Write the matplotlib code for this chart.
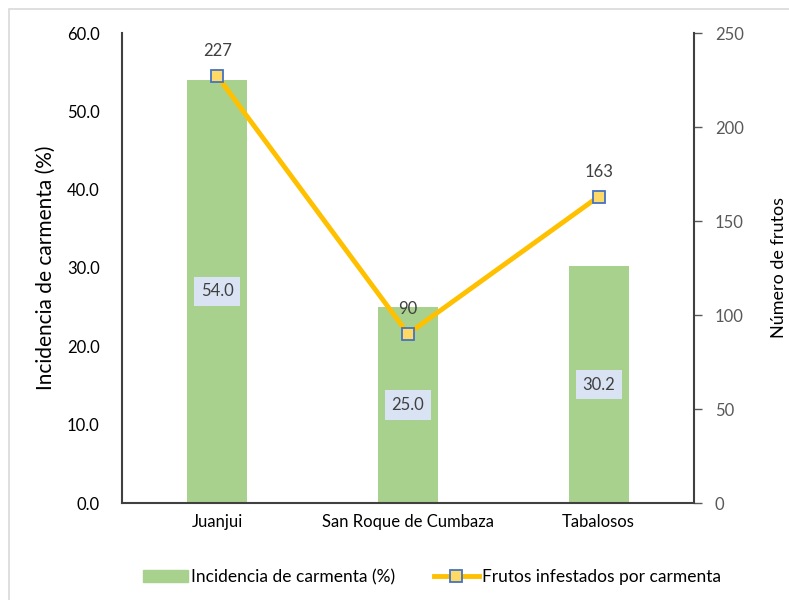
import matplotlib.pyplot as plt
import matplotlib.patches as mpatches
from matplotlib.lines import Line2D
import numpy as np

plt.rcParams['font.family'] = ['Lato', 'DejaVu Sans']

localidades = ['Juanjui', 'San Roque de Cumbaza', 'Tabalosos']
incidencia = [54.0, 25.0, 30.2]
frutos = [227, 90, 163]

verde = '#A9D18E'
amarillo = '#FFC000'
gris = '#404040'

fig = plt.figure(figsize=(7.89, 6), dpi=100)
ax = fig.add_axes([122 / 789, 1 - 503 / 600, 572 / 789, 470 / 600])
ax2 = ax.twinx()

x = np.arange(len(localidades))
ax.bar(x, incidencia, width=0.315, color=verde, zorder=1)
ax.set_xlim(-0.5, 2.5)
ax.set_ylim(0, 60)
ax.set_yticks(np.arange(0, 61, 10))
ax.set_yticklabels([f'{v:.1f}' for v in np.arange(0, 61, 10)], fontsize=12, color='black')
ax.set_xticks(x)
ax.set_xticklabels(localidades, fontsize=12, color='black')
ax.tick_params(axis='y', length=0, pad=16)
ax.tick_params(axis='x', length=0, pad=8)
ax.set_ylabel('Incidencia de carmenta (%)', fontsize=15, labelpad=8)

# etiquetas de las barras en el centro
for xi, v in zip(x, incidencia):
    ax.text(xi, v / 2, f'{v:.1f}', ha='center', va='center', fontsize=12, color=gris,
            bbox=dict(boxstyle='square,pad=0.4', fc='#DAE3F3', ec='none'), zorder=3)

ax2.plot(x, frutos, color=amarillo, lw=3.5, marker='s', ms=9, mfc='#FFD966',
         mec='#4472C4', mew=1.3, zorder=4)
ax2.set_ylim(0, 250)
ax2.set_yticks(np.arange(0, 251, 50))
ax2.set_yticklabels([str(v) for v in range(0, 251, 50)], fontsize=12, color='#595959')
ax2.tick_params(axis='y', length=6, width=1.0, color='#595959', pad=9)
ax2.set_ylabel('Número de frutos', fontsize=13, labelpad=20)
for xi, v in zip(x, frutos):
    ax2.text(xi, v + 9, str(v), ha='center', va='bottom', fontsize=12, color=gris)

for a in (ax, ax2):
    a.spines['top'].set_visible(False)
    for s in ('left', 'right', 'bottom'):
        a.spines[s].set_color(gris)
        a.spines[s].set_linewidth(1.5)
ax.spines['right'].set_visible(False)
ax2.spines['left'].set_visible(False)
ax2.spines['bottom'].set_visible(False)

handles = [mpatches.Patch(color=verde, label='Incidencia de carmenta (%)'),
           Line2D([], [], color=amarillo, lw=3.5, marker='s', ms=9, mfc='#FFD966',
                  mec='#4472C4', mew=1.3, label='Frutos infestados por carmenta')]
fig.legend(handles=handles, loc='center', bbox_to_anchor=(432 / 789, 1 - 577 / 600), ncol=2,
           frameon=False, fontsize=12.5, handlelength=2.6, handletextpad=0.2, columnspacing=2.2)

# marco del área del gráfico
fig.patches.append(mpatches.Rectangle((9 / 789, -0.05), 1, 1.05 - 9 / 600, transform=fig.transFigure,
                                      fill=False, ec='#D9D9D9', lw=1.2))

fig.savefig('out.png', dpi=100)
